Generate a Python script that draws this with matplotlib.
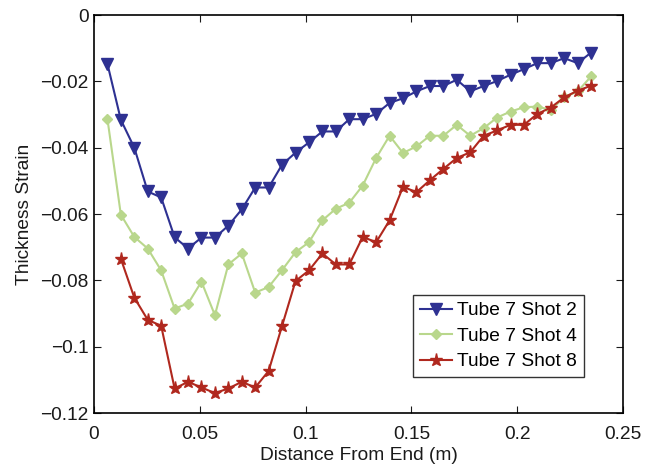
import numpy as np
import matplotlib
matplotlib.use("Agg")
from matplotlib import pyplot as plt
from matplotlib.ticker import FuncFormatter

plt.rcParams['font.family'] = ['Liberation Sans', 'DejaVu Sans']

# measurement stations every 1/4 inch along the tube
step = 0.00635
x_all = step * np.arange(1, 38)

shot2 = [-0.0147, -0.0316, -0.0400, -0.0532, -0.0550, -0.0670, -0.0704, -0.0671,
         -0.0671, -0.0635, -0.0586, -0.0520, -0.0520, -0.0451, -0.0415, -0.0384,
         -0.0351, -0.0351, -0.0314, -0.0314, -0.0298, -0.0265, -0.0251, -0.0230,
         -0.0214, -0.0214, -0.0195, -0.0230, -0.0214, -0.0199, -0.0180, -0.0163,
         -0.0145, -0.0145, -0.0130, -0.0145, -0.0113]

shot4 = [-0.0313, -0.0602, -0.0669, -0.0704, -0.0770, -0.0885, -0.0870, -0.0804,
         -0.0905, -0.0752, -0.0719, -0.0837, -0.0820, -0.0769, -0.0715, -0.0685,
         -0.0619, -0.0584, -0.0566, -0.0514, -0.0431, -0.0364, -0.0416, -0.0396,
         -0.0364, -0.0364, -0.0331, -0.0364, -0.0341, -0.0309, -0.0291, -0.0278,
         -0.0276, -0.0286, -0.0248, -0.0230, -0.0185]

# shot 8 has no reading at the first station
shot8 = [-0.0735, -0.0852, -0.0919, -0.0937, -0.1126, -0.1106, -0.1123, -0.1140,
         -0.1126, -0.1106, -0.1123, -0.1073, -0.0937, -0.0802, -0.0770, -0.0719,
         -0.0752, -0.0752, -0.0669, -0.0685, -0.0619, -0.0518, -0.0534, -0.0498,
         -0.0464, -0.0431, -0.0414, -0.0364, -0.0348, -0.0331, -0.0331, -0.0298,
         -0.0279, -0.0248, -0.0228, -0.0213]

labels = ["Tube 7 Shot 2", "Tube 7 Shot 4", "Tube 7 Shot 8"]

fs = 13.8
txt = "#1a1a1a"

fig = plt.figure(figsize=(6.6, 4.66), dpi=100)
ax = fig.add_axes([0.1424, 0.1137, 0.8015, 0.854])

ax.plot(x_all, shot2, color="#2E3192", marker="v", markersize=8, lw=1.5, label=labels[0])
ax.plot(x_all, shot4, color="#B9D78C", marker="D", markersize=5.5, lw=1.5, label=labels[1])
ax.plot(x_all[1:], shot8, color="#B0281E", marker="*", markersize=9.5, lw=1.5, label=labels[2])

ax.set_xlim(0, 0.25)
ax.set_ylim(-0.12, 0)
ax.set_xticks(np.arange(0, 0.2501, 0.05))
ax.set_yticks(np.arange(-0.12, 0.0001, 0.02))
fmt = FuncFormatter(lambda v, p: ("%g" % round(v, 4)).replace("-", "\u2212"))
ax.xaxis.set_major_formatter(fmt)
ax.yaxis.set_major_formatter(fmt)
ax.tick_params(direction="in", top=True, right=True, length=5, labelsize=fs,
               colors=txt)
ax.tick_params(axis="y", pad=4)
ax.tick_params(axis="x", pad=9)
for s in ax.spines.values():
    s.set_linewidth(1.2)

ax.set_xlabel("Distance From End (m)", fontsize=fs, color=txt, labelpad=3)
ax.set_ylabel("Thickness Strain", fontsize=fs, color=txt, labelpad=5)

leg = ax.legend(loc="lower right", bbox_to_anchor=(0.926, 0.0905), fontsize=fs,
                fancybox=False, edgecolor="black", borderaxespad=0, handlelength=1.7,
                labelspacing=0.42, borderpad=0.35, handletextpad=0.25)
leg.get_frame().set_linewidth(1.0)

fig.savefig("out.png", dpi=100)
